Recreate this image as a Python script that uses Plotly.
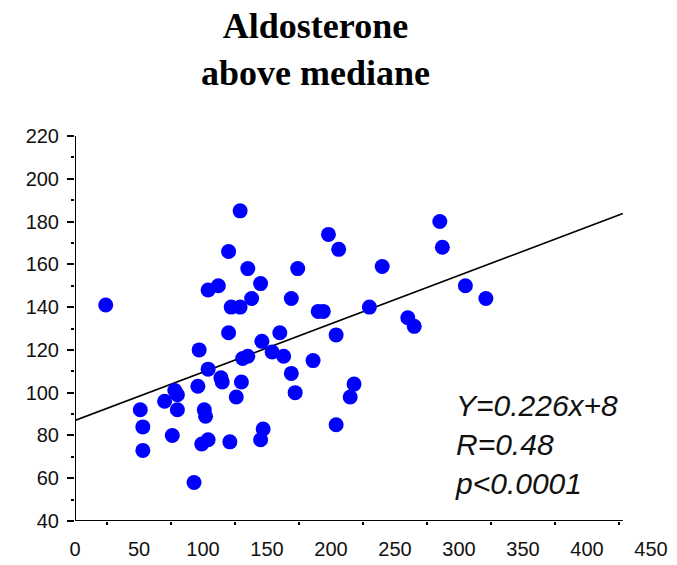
import plotly.graph_objects as go

# Plasma aldosterone (x) vs. outcome variable (y), patients above the median
aldo = [24, 129, 198, 206, 120, 135, 174, 104, 112, 145, 138, 169, 122, 129,
        190, 194, 120, 160, 146, 204, 97, 104, 131, 135, 154, 163, 186, 169,
        172, 114, 115, 130, 126, 96, 78, 80, 70, 80, 51, 53, 53, 76, 101,
        102, 99, 104, 121, 145, 147, 93, 204, 240, 285, 287, 305, 321, 230,
        260, 265, 218, 215]
resp = [141, 185, 174, 167, 166, 158, 158, 148, 150, 151, 144, 144, 140, 140,
        138, 138, 128, 128, 124, 127, 120, 111, 116, 117, 119, 117, 115, 109,
        100, 107, 105, 105, 98, 103, 101, 99, 96, 92, 92, 84, 73, 80, 92,
        89, 76, 78, 77, 78, 83, 58, 85, 159, 180, 168, 150, 144, 140,
        135, 131, 104, 98]

# Least-squares fit shown on the chart
slope = 0.226
intercept = 87
fit_x = [0, 428]
fit_y = [slope * v + intercept for v in fit_x]

x_labels = list(range(0, 451, 50))
x_major = list(range(0, 401, 50))
x_minor = list(range(25, 426, 50))
y_major = list(range(40, 221, 20))
y_minor = list(range(50, 211, 20))

stats_text = "Y=0.226x+8<br>R=0.48<br>p<0.0001"
title_text = "<b>Aldosterone<br>above mediane</b>"

fig = go.Figure()
fig.add_trace(go.Scatter(x=fit_x, y=fit_y, mode="lines",
                         line=dict(color="black", width=1.6),
                         hoverinfo="skip", showlegend=False))
fig.add_trace(go.Scatter(x=aldo, y=resp, mode="markers",
                         marker=dict(color="#0000FF", size=15, line=dict(width=0)),
                         showlegend=False))

tick_font = dict(family="Liberation Sans, Arial, sans-serif", size=20, color="#111")

fig.update_layout(
    width=677, height=565,
    margin=dict(l=75, r=26, t=136, b=44),
    paper_bgcolor="white", plot_bgcolor="white",
    xaxis=dict(range=[0, 450], tickvals=x_labels, ticks="", showline=False,
               showgrid=False, zeroline=False, tickfont=tick_font,
               ticklabelstandoff=14, automargin=False,
               minor=dict(tickvals=x_minor, ticks="outside", ticklen=3,
                          tickwidth=1.5, tickcolor="black")),
    xaxis2=dict(overlaying="x", matches="x", anchor="y", side="bottom",
                tickvals=x_major, ticks="outside", ticklen=6, tickwidth=1.5,
                tickcolor="black", showticklabels=False, showline=False,
                showgrid=False, zeroline=False, automargin=False),
    yaxis=dict(range=[40, 220], tickvals=y_major, ticks="outside", ticklen=7,
               tickwidth=1.5, tickcolor="black", showline=False, showgrid=False,
               zeroline=False, tickfont=tick_font, ticklabelstandoff=4,
               automargin=False,
               minor=dict(tickvals=y_minor, ticks="outside", ticklen=3,
                          tickwidth=1.5, tickcolor="black")),
    yaxis2=dict(overlaying="y", matches="y", anchor="x", side="left",
                tickvals=[220], ticks="inside", ticklen=7, tickwidth=1.5,
                tickcolor="black", showticklabels=False, showline=False,
                showgrid=False, zeroline=False, automargin=False),
    shapes=[
        dict(type="line", xref="x", yref="y", x0=0, x1=0, y0=40, y1=222.5,
             line=dict(color="black", width=2)),
        dict(type="line", xref="x", yref="y", x0=0, x1=428, y0=40, y1=40,
             line=dict(color="black", width=2)),
    ],
    annotations=[
        dict(text=title_text, xref="paper", yref="paper", x=0.4167, y=1.342,
             xanchor="center", yanchor="top", showarrow=False,
             font=dict(family="Liberation Serif, Times New Roman, serif",
                       size=36, color="black")),
        dict(text="<i>" + stats_text + "</i>", xref="x", yref="y", x=295, y=76,
             xanchor="left", yanchor="middle", align="left", showarrow=False,
             font=dict(family="Liberation Sans, Arial, sans-serif", size=30,
                       color="#111")),
    ],
)

fig.write_html("out.html")
